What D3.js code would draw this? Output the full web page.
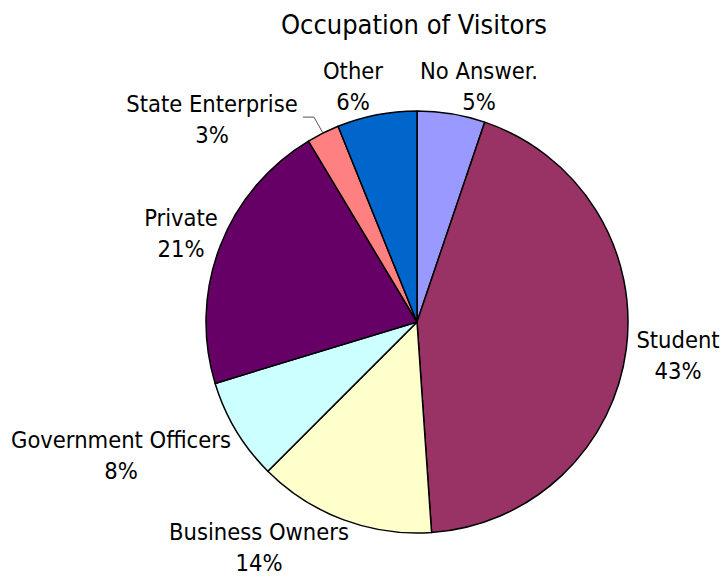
<!DOCTYPE html>
<html>
<head>
<meta charset="utf-8">
<script src="https://cdn.jsdelivr.net/npm/d3@7"></script>
<style>
  body { margin: 0; background: #fff; }
  text { font-family: Tahoma, "DejaVu Sans Condensed", "DejaVu Sans", sans-serif; fill: #000; }
</style>
</head>
<body>
<div id="chart"></div>
<script>
// --- data (clockwise from 12 o'clock) ---
const categories = ["No Answer.", "Student", "Business Owners", "Government Officers", "Private", "State Enterprise", "Other"];
const shares = [5.2, 43.7, 13.6, 7.8, 21.1, 2.5, 6.1];
const pctLabels = ["5%", "43%", "14%", "8%", "21%", "3%", "6%"];
const colors = ["#9999FF", "#993366", "#FFFFCC", "#CCFFFF", "#660066", "#FF8080", "#0066CC"];

// label anchors: centre x, first-line baseline y (layout, not data)
const labelPos = {
  "No Answer.": [479, 79],
  "Student": [678, 348],
  "Business Owners": [259, 540],
  "Government Officers": [121, 448],
  "Private": [181, 226],
  "State Enterprise": [212, 112],
  "Other": [353, 79]
};

const width = 724, height = 577;
const cx = 417, cy = 322, radius = 211;

const svg = d3.select("#chart").append("svg")
  .attr("width", width)
  .attr("height", height);

svg.append("text")
  .attr("x", 414)
  .attr("y", 34)
  .attr("text-anchor", "middle")
  .style("font-size", "27px")
  .text("Occupation of Visitors");

const data = categories.map((c, i) => ({ key: c, value: shares[i], pct: pctLabels[i], color: colors[i] }));

const pie = d3.pie()
  .sort(null)
  .value(d => d.value);

const arc = d3.arc().innerRadius(0).outerRadius(radius);
const arcs = pie(data);

const g = svg.append("g")
  .attr("transform", `translate(${cx}, ${cy})`);

g.selectAll("path")
  .data(arcs)
  .enter().append("path")
  .attr("d", arc)
  .attr("fill", d => d.data.color)
  .attr("stroke", "#000")
  .attr("stroke-width", 1.5)
  .attr("stroke-linejoin", "round");

// leader line for the small State Enterprise slice
const se = arcs.find(d => d.data.key === "State Enterprise");
const mid = (se.startAngle + se.endAngle) / 2;
const px = cx + radius * Math.sin(mid), py = cy - radius * Math.cos(mid);
svg.append("path")
  .attr("d", `M${px},${py}L${px - 9},${py - 16}L${px - 20},${py - 16}`)
  .attr("fill", "none")
  .attr("stroke", "#555")
  .attr("stroke-width", 1);

// labels
const labels = svg.append("g").attr("class", "pie--annot")
  .selectAll("text")
  .data(data)
  .enter().append("text")
  .attr("text-anchor", "middle")
  .style("font-size", "23.5px")
  .attr("x", d => labelPos[d.key][0])
  .attr("y", d => labelPos[d.key][1]);

labels.append("tspan")
  .attr("x", d => labelPos[d.key][0])
  .text(d => d.key);

labels.append("tspan")
  .attr("x", d => labelPos[d.key][0])
  .attr("dy", 31)
  .text(d => d.pct);
</script>
</body>
</html>
